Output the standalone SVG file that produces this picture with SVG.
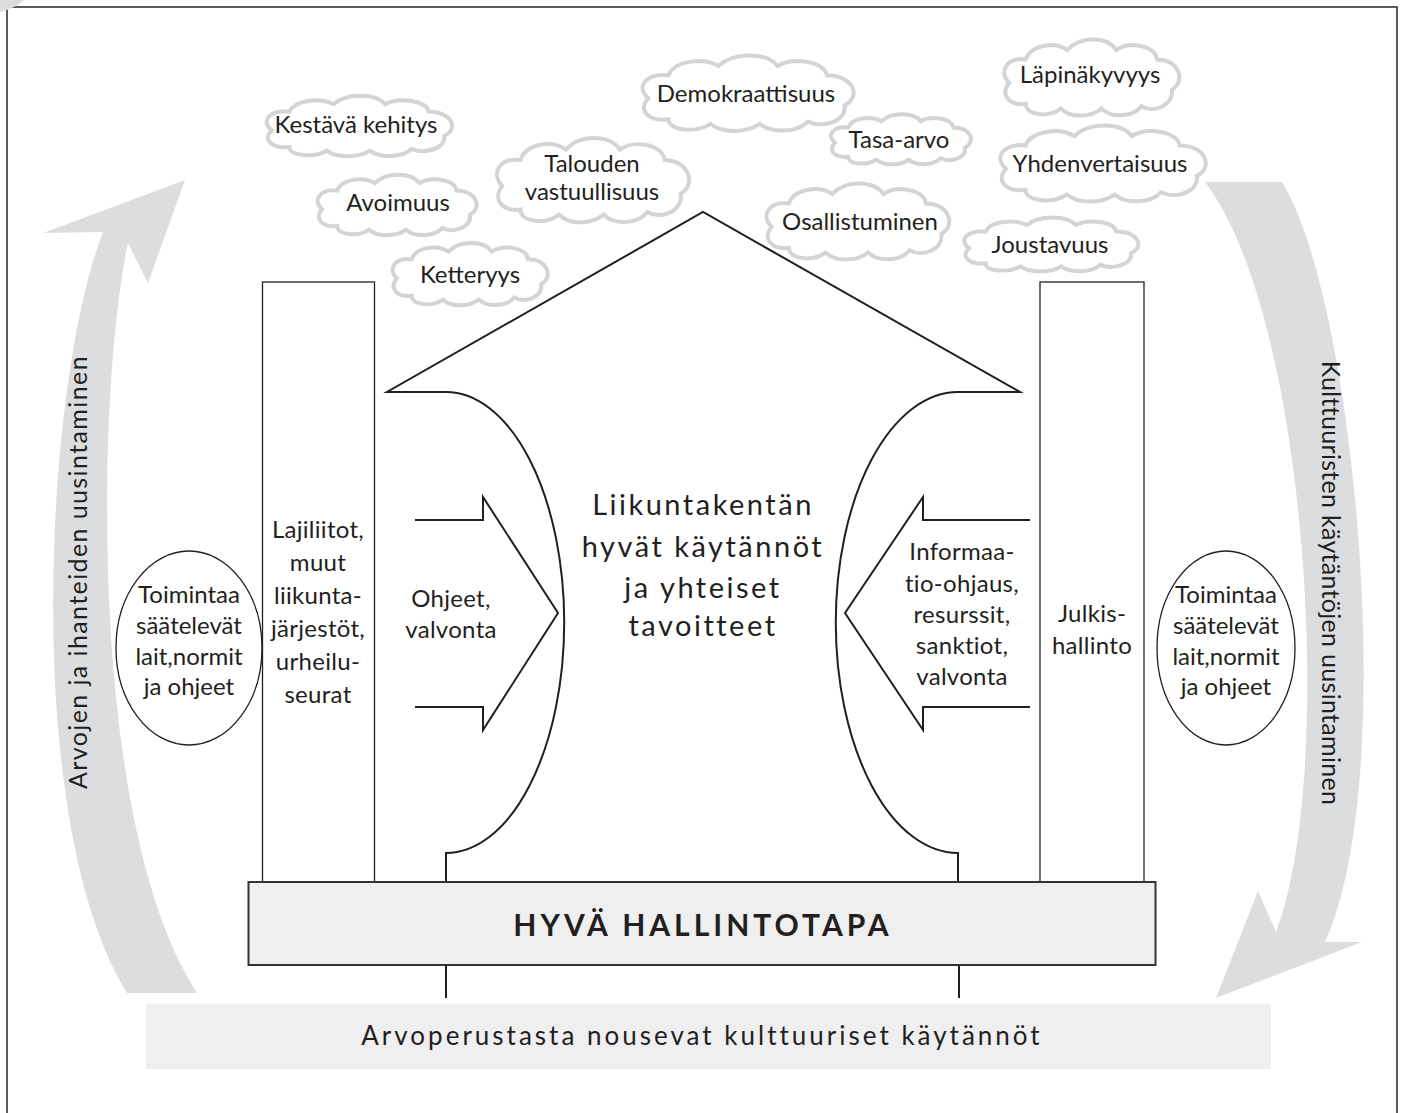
<svg xmlns="http://www.w3.org/2000/svg" xmlns:xlink="http://www.w3.org/1999/xlink" width="1405" height="1113" viewBox="0 0 1405 1113">
  <style>
    .t { font-family: Lato, "Open Sans", "DejaVu Sans", sans-serif; fill: #231f20; text-anchor: middle; }
    .cloudtxt { font-size: 24px; }
    .body { font-size: 24px; letter-spacing: 0.3px; }
    .oval { font-size: 24px; letter-spacing: 0px; }
    .band { fill: #dcdddf; }
    .line { fill: none; stroke: #231f20; stroke-width: 2; }
    .thin { fill: #fff; stroke: #231f20; stroke-width: 1.3; }
  </style>
  <defs>
    <!-- cloud outline in a 200 x 70 box, scaled per cloud -->
    <path id="cloud" vector-effect="non-scaling-stroke" fill="#fff" stroke="#d3d4d6" stroke-width="4"
      d="M12,40 C0,30 10,18 30,20 C35,8 60,4 75,12 C88,0 118,0 128,12 C142,4 170,8 172,20 C195,20 204,38 188,46 C190,60 168,66 155,60 C145,70 122,70 112,62 C100,70 78,70 68,62 C55,70 30,68 30,58 C12,60 2,50 12,40 Z"/>
  </defs>

  <rect width="1405" height="1113" fill="#fff"/>
  <!-- outer frame -->
  <rect x="7" y="7" width="1390" height="1130" fill="none" stroke="#333" stroke-width="1.6"/>
  <path class="band" d="M0,0 L24,0 C18,6 8,10 0,12 Z"/>

  <!-- curved grey cycle arrows -->
  <g id="cycle-left">
    <path class="band" d="M43,233 L185,180 L148,283 L128,243 C98,380 85,820 197,993 L127,993 C20,820 45,380 103,232 Z"/>
    <text class="t" font-size="25" letter-spacing="1.4" transform="translate(87,572) rotate(-90)">Arvojen ja ihanteiden uusintaminen</text>
  </g>
  <g id="cycle-right">
    <path class="band" d="M1205,182 L1282,182 C1355,300 1400,780 1325,942 L1362,942 L1216,998 L1258,891 L1276,932 C1335,780 1310,320 1205,182 Z"/>
    <text class="t" font-size="25" letter-spacing="0.3" transform="translate(1322,583) rotate(90)">Kulttuuristen käytäntöjen uusintaminen</text>
  </g>

  <!-- value clouds -->
  <g id="cloud-kestava">
    <use xlink:href="#cloud" transform="translate(260,93) scale(0.98,0.93)"/>
    <text class="t cloudtxt" x="356" y="133">Kestävä kehitys</text>
  </g>
  <g id="cloud-avoimuus">
    <use xlink:href="#cloud" transform="translate(312,172) scale(0.84,0.93)"/>
    <text class="t cloudtxt" x="398" y="211">Avoimuus</text>
  </g>
  <g id="cloud-ketteryys">
    <use xlink:href="#cloud" transform="translate(387,240) scale(0.82,0.96)"/>
    <text class="t cloudtxt" x="470" y="283">Ketteryys</text>
  </g>
  <g id="cloud-talouden">
    <use xlink:href="#cloud" transform="translate(490,134) scale(1.015,1.3)"/>
    <text class="t cloudtxt" x="592" y="172">Talouden</text>
    <text class="t cloudtxt" x="592" y="200">vastuullisuus</text>
  </g>
  <g id="cloud-demokraattisuus">
    <use xlink:href="#cloud" transform="translate(635,52) scale(1.115,1.16)"/>
    <text class="t cloudtxt" x="746" y="102">Demokraattisuus</text>
  </g>
  <g id="cloud-tasa-arvo">
    <use xlink:href="#cloud" transform="translate(826,112) scale(0.74,0.77)"/>
    <text class="t cloudtxt" x="899" y="148">Tasa-arvo</text>
  </g>
  <g id="cloud-osallistuminen">
    <use xlink:href="#cloud" transform="translate(760,180) scale(0.965,1.17)"/>
    <text class="t cloudtxt" x="860" y="230">Osallistuminen</text>
  </g>
  <g id="cloud-lapinakyvyys">
    <use xlink:href="#cloud" transform="translate(998,36) scale(0.925,1.17)"/>
    <text class="t cloudtxt" x="1090" y="83">Läpinäkyvyys</text>
  </g>
  <g id="cloud-yhdenvertaisuus">
    <use xlink:href="#cloud" transform="translate(993,122) scale(1.085,1.17)"/>
    <text class="t cloudtxt" x="1100" y="172">Yhdenvertaisuus</text>
  </g>
  <g id="cloud-joustavuus">
    <use xlink:href="#cloud" transform="translate(958,215) scale(0.92,0.83)"/>
    <text class="t cloudtxt" x="1050" y="253">Joustavuus</text>
  </g>

  <!-- norm ellipses -->
  <g id="norms-left">
    <ellipse class="thin" cx="189" cy="648" rx="73" ry="97"/>
    <text class="t oval" x="189" y="603">Toimintaa</text>
    <text class="t oval" x="189" y="634">säätelevät</text>
    <text class="t oval" x="189" y="665">lait,normit</text>
    <text class="t oval" x="189" y="695">ja ohjeet</text>
  </g>
  <g id="norms-right">
    <ellipse class="thin" cx="1226" cy="648" rx="69" ry="97"/>
    <text class="t oval" x="1226" y="603">Toimintaa</text>
    <text class="t oval" x="1226" y="634">säätelevät</text>
    <text class="t oval" x="1226" y="665">lait,normit</text>
    <text class="t oval" x="1226" y="695">ja ohjeet</text>
  </g>

  <!-- pillars -->
  <g id="pillar-left">
    <rect class="thin" x="262.5" y="282" width="112" height="600"/>
    <text class="t body" x="318" y="538">Lajiliitot,</text>
    <text class="t body" x="318" y="571">muut</text>
    <text class="t body" x="318" y="604">liikunta-</text>
    <text class="t body" x="318" y="637">järjestöt,</text>
    <text class="t body" x="318" y="670">urheilu-</text>
    <text class="t body" x="318" y="703">seurat</text>
  </g>
  <g id="pillar-right">
    <rect class="thin" x="1040" y="282" width="104" height="600"/>
    <text class="t body" x="1092" y="622">Julkis-</text>
    <text class="t body" x="1092" y="654">hallinto</text>
  </g>

  <!-- central house -->
  <g id="house">
    <path class="line" fill="#fff" d="M446,882 L446,853 A118,230 0 0 0 446,392 L387,392 L703,212 L1020,392 L958,392 A122,230 0 0 0 958,853 L958,882"/>
    <text class="t" font-size="29" letter-spacing="2.5" x="703" y="515">Liikuntakentän</text>
    <text class="t" font-size="29" letter-spacing="2.5" x="703" y="557">hyvät käytännöt</text>
    <text class="t" font-size="29" letter-spacing="2.5" x="703" y="598">ja yhteiset</text>
    <text class="t" font-size="29" letter-spacing="2.5" x="703" y="636">tavoitteet</text>
  </g>

  <!-- guidance arrows into the house -->
  <g id="arrow-ohjeet">
    <path class="line" stroke-width="1.6" d="M415,520 L483,520 L483,497 L558,613 L483,730 L483,707 L415,707"/>
    <text class="t body" x="451" y="607">Ohjeet,</text>
    <text class="t body" x="451" y="638">valvonta</text>
  </g>
  <g id="arrow-informaatio">
    <path class="line" stroke-width="1.6" d="M1030,520 L923,520 L923,497 L845,613 L923,730 L923,707 L1030,707"/>
    <text class="t body" x="962" y="560">Informaa-</text>
    <text class="t body" x="962" y="592">tio-ohjaus,</text>
    <text class="t body" x="962" y="623">resurssit,</text>
    <text class="t body" x="962" y="654">sanktiot,</text>
    <text class="t body" x="962" y="685">valvonta</text>
  </g>

  <!-- foundation -->
  <g id="governance">
    <rect x="248.5" y="882" width="907" height="83" fill="#efeff0" stroke="#333" stroke-width="2"/>
    <text class="t" font-size="30" font-weight="bold" letter-spacing="4" x="703" y="936">HYVÄ HALLINTOTAPA</text>
  </g>
  <g id="connectors">
    <line class="line" x1="446" y1="965" x2="446" y2="998"/>
    <line class="line" x1="959" y1="965" x2="959" y2="998"/>
  </g>
  <g id="cultural-practices">
    <rect x="146" y="1004" width="1125" height="65" fill="#efeff1"/>
    <text class="t" font-size="26" letter-spacing="3" x="702" y="1045">Arvoperustasta nousevat kulttuuriset käytännöt</text>
  </g>
</svg>
